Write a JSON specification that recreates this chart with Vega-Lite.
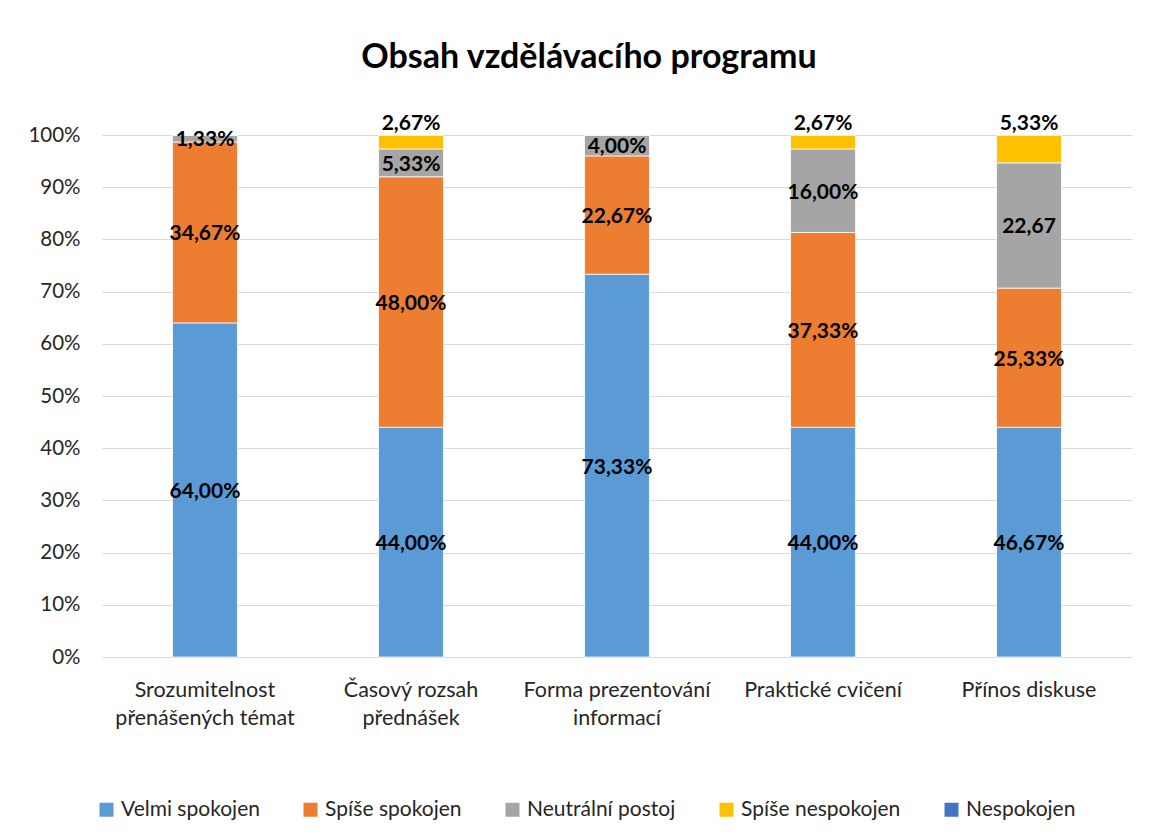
{
  "$schema": "https://vega.github.io/schema/vega-lite/v6.json",
  "autosize": "none",
  "width": 1030,
  "height": 522,
  "padding": {"left": 102, "top": 135, "right": 17, "bottom": 183},
  "background": "white",
  "config": {
    "font": "Lato",
    "view": {"stroke": null}
  },
  "title": {
    "text": "Obsah vzdělávacího programu",
    "fontSize": 34,
    "fontWeight": "bold",
    "color": "#000000",
    "font": "Lato",
    "anchor": "middle",
    "dx": -28,
    "offset": 38
  },
  "data": {
    "values": [
      {"kategorie": "Srozumitelnost\npřenášených témat", "serie": "Velmi spokojen", "poradi": 1, "hodnota": 64.00, "popisek": "64,00%"},
      {"kategorie": "Srozumitelnost\npřenášených témat", "serie": "Spíše spokojen", "poradi": 2, "hodnota": 34.67, "popisek": "34,67%"},
      {"kategorie": "Srozumitelnost\npřenášených témat", "serie": "Neutrální postoj", "poradi": 3, "hodnota": 1.33, "popisek": "1,33%"},
      {"kategorie": "Srozumitelnost\npřenášených témat", "serie": "Spíše nespokojen", "poradi": 4, "hodnota": 0, "popisek": ""},
      {"kategorie": "Srozumitelnost\npřenášených témat", "serie": "Nespokojen", "poradi": 5, "hodnota": 0, "popisek": ""},
      {"kategorie": "Časový rozsah\npřednášek", "serie": "Velmi spokojen", "poradi": 1, "hodnota": 44.00, "popisek": "44,00%"},
      {"kategorie": "Časový rozsah\npřednášek", "serie": "Spíše spokojen", "poradi": 2, "hodnota": 48.00, "popisek": "48,00%"},
      {"kategorie": "Časový rozsah\npřednášek", "serie": "Neutrální postoj", "poradi": 3, "hodnota": 5.33, "popisek": "5,33%"},
      {"kategorie": "Časový rozsah\npřednášek", "serie": "Spíše nespokojen", "poradi": 4, "hodnota": 2.67, "popisek": "2,67%"},
      {"kategorie": "Časový rozsah\npřednášek", "serie": "Nespokojen", "poradi": 5, "hodnota": 0, "popisek": ""},
      {"kategorie": "Forma prezentování\ninformací", "serie": "Velmi spokojen", "poradi": 1, "hodnota": 73.33, "popisek": "73,33%"},
      {"kategorie": "Forma prezentování\ninformací", "serie": "Spíše spokojen", "poradi": 2, "hodnota": 22.67, "popisek": "22,67%"},
      {"kategorie": "Forma prezentování\ninformací", "serie": "Neutrální postoj", "poradi": 3, "hodnota": 4.00, "popisek": "4,00%"},
      {"kategorie": "Forma prezentování\ninformací", "serie": "Spíše nespokojen", "poradi": 4, "hodnota": 0, "popisek": ""},
      {"kategorie": "Forma prezentování\ninformací", "serie": "Nespokojen", "poradi": 5, "hodnota": 0, "popisek": ""},
      {"kategorie": "Praktické cvičení", "serie": "Velmi spokojen", "poradi": 1, "hodnota": 44.00, "popisek": "44,00%"},
      {"kategorie": "Praktické cvičení", "serie": "Spíše spokojen", "poradi": 2, "hodnota": 37.33, "popisek": "37,33%"},
      {"kategorie": "Praktické cvičení", "serie": "Neutrální postoj", "poradi": 3, "hodnota": 16.00, "popisek": "16,00%"},
      {"kategorie": "Praktické cvičení", "serie": "Spíše nespokojen", "poradi": 4, "hodnota": 2.67, "popisek": "2,67%"},
      {"kategorie": "Praktické cvičení", "serie": "Nespokojen", "poradi": 5, "hodnota": 0, "popisek": ""},
      {"kategorie": "Přínos diskuse", "serie": "Velmi spokojen", "poradi": 1, "hodnota": 44.00, "popisek": "46,67%"},
      {"kategorie": "Přínos diskuse", "serie": "Spíše spokojen", "poradi": 2, "hodnota": 26.67, "popisek": "25,33%"},
      {"kategorie": "Přínos diskuse", "serie": "Neutrální postoj", "poradi": 3, "hodnota": 24.00, "popisek": "22,67"},
      {"kategorie": "Přínos diskuse", "serie": "Spíše nespokojen", "poradi": 4, "hodnota": 5.33, "popisek": "5,33%"},
      {"kategorie": "Přínos diskuse", "serie": "Nespokojen", "poradi": 5, "hodnota": 0, "popisek": ""}
    ]
  },
  "transform": [
    {"stack": "hodnota", "groupby": ["kategorie"], "sort": [{"field": "poradi", "order": "ascending"}], "as": ["y0", "y1"]},
    {"calculate": "(datum.y0 + datum.y1) / 2", "as": "ystred"}
  ],
  "encoding": {
    "x": {
      "field": "kategorie",
      "type": "nominal",
      "sort": null,
      "scale": {"paddingInner": 0.685, "paddingOuter": 0.3425},
      "axis": {
        "title": null,
        "labelAngle": 0,
        "labelExpr": "split(datum.label, '\\n')",
        "labelFontSize": 21.5,
        "labelColor": "#262626",
        "labelPadding": 22,
        "labelLineHeight": 28,
        "labelLimit": 400,
        "domain": false,
        "ticks": false
      }
    }
  },
  "layer": [
    {
      "mark": {"type": "bar", "stroke": "white", "strokeWidth": 0.75},
      "encoding": {
        "y": {
          "field": "y1",
          "type": "quantitative",
          "scale": {"domain": [0, 100], "nice": false},
          "axis": {
            "title": null,
            "values": [0, 10, 20, 30, 40, 50, 60, 70, 80, 90, 100],
            "labelExpr": "datum.value + '%'",
            "labelFontSize": 20.5,
            "labelColor": "#262626",
            "labelPadding": 22,
            "domain": false,
            "ticks": false,
            "grid": true,
            "gridColor": "#d9d9d9",
            "gridWidth": 1.2
          }
        },
        "y2": {"field": "y0"},
        "color": {
          "field": "serie",
          "type": "nominal",
          "scale": {
            "domain": ["Velmi spokojen", "Spíše spokojen", "Neutrální postoj", "Spíše nespokojen", "Nespokojen"],
            "range": ["#5B9BD5", "#ED7D31", "#A5A5A5", "#FFC000", "#4472C4"]
          },
          "legend": {
            "title": null,
            "orient": "none",
            "direction": "horizontal",
            "legendX": -6,
            "legendY": 664,
            "symbolType": "square",
            "symbolSize": 196,
            "symbolStrokeWidth": 0,
            "symbolOpacity": 1,
            "labelFontSize": 21,
            "labelColor": "#262626",
            "labelOffset": 4,
            "labelLimit": 300,
            "columnPadding": 40
          }
        }
      }
    },
    {
      "transform": [{"filter": "datum.popisek != '' && datum.serie != 'Spíše nespokojen'"}],
      "mark": {"type": "text", "fontSize": 21, "fontWeight": "bold", "color": "#000000", "baseline": "middle", "dy": 2},
      "encoding": {
        "y": {"field": "ystred", "type": "quantitative"},
        "text": {"field": "popisek"}
      }
    },
    {
      "transform": [{"filter": "datum.popisek != '' && datum.serie == 'Spíše nespokojen'"}],
      "mark": {"type": "text", "fontSize": 21, "fontWeight": "bold", "color": "#000000", "baseline": "alphabetic", "dy": -5},
      "encoding": {
        "y": {"field": "y1", "type": "quantitative"},
        "text": {"field": "popisek"}
      }
    }
  ]
}
